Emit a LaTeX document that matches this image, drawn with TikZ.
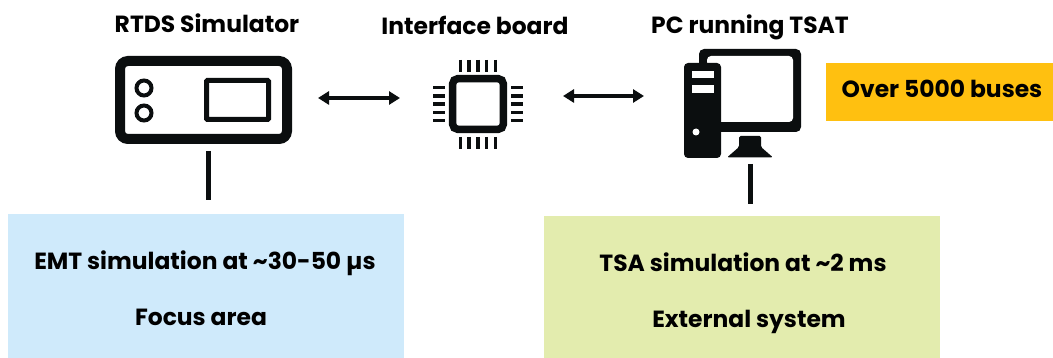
\documentclass[tikz,border=0pt]{standalone}
\usepackage{fontspec}
\setmainfont{Poppins}
\definecolor{ink}{HTML}{0B0E0F}
\definecolor{bluebox}{HTML}{CFEAFB}
\definecolor{greenbox}{HTML}{E3ECAE}
\definecolor{amberbox}{HTML}{FFC010}
\usetikzlibrary{arrows.meta}
\tikzset{
  label text/.style={font=\bfseries\fontsize{23.4}{27}\selectfont,text=black,inner sep=0pt,anchor=base},
  panel/.style={inner sep=0pt,outer sep=0pt,minimum height=#1},
  icon/.style={inner sep=0pt,outer sep=0pt,anchor=center},
  biarrow/.style={line width=3.2pt,ink,{Triangle[length=11pt,width=13pt]}-{Triangle[length=11pt,width=13pt]}},
  stem/.style={line width=5pt,ink},
  pin/.style={line width=3.6pt,ink}
}
\begin{document}
\begin{tikzpicture}[x=1pt,y=-1pt]
\useasboundingbox (0,0) rectangle (1053,358);
% panels
\node[panel=144pt,minimum width=396pt,fill=bluebox] (emt) at (206,286) {};
\node[panel=142pt,minimum width=396pt,fill=greenbox] (tsa) at (742,287) {};
\node[panel=58pt,minimum width=227pt,fill=amberbox] (buses) at (939.5,92) {};
% RTDS icon
\node[icon,draw=ink,line width=10pt,rounded corners=8pt,minimum width=167pt,minimum height=78pt] (sim) at (203.5,100) {};
\node[icon,draw=ink,line width=5pt,rounded corners=1pt,minimum width=62pt,minimum height=39pt] (screen) at (237.5,100) {};
\node[icon,circle,draw=ink,line width=4pt,minimum size=15pt] (led1) at (144,88) {};
\node[icon,circle,draw=ink,line width=4pt,minimum size=15pt] (led2) at (144,113) {};
% chip icon
\node[icon,draw=ink,line width=7.5pt,rounded corners=5pt,minimum width=50.6pt,minimum height=50.6pt] (board) at (478,104) {};
\foreach \i in {0,...,4}{
  \draw[pin] (460.5+8.7*\i,60) -- (460.5+8.7*\i,72);
  \draw[pin] (460.5+8.7*\i,137) -- (460.5+8.7*\i,149);
  \draw[pin] (433,87.5+8.3*\i) -- (445,87.5+8.3*\i);
  \draw[pin] (511,87.5+8.3*\i) -- (523,87.5+8.3*\i);
}
% computer icon
\node[icon,minimum width=117pt,minimum height=109pt] (pc) at (742.5,103.5) {};
\fill[ink,rounded corners=5pt] (699,49) rectangle (801,132);
\fill[white,rounded corners=4pt] (707,56) -- (793,56) -- (793,122) -- (715,122) -- (715,66) -- (707,66) -- cycle;
\fill[ink,rounded corners=4pt] (684,63) rectangle (721,158);
\fill[white] (692,71) rectangle (714,78);
\fill[white] (692,85) rectangle (714,93);
\fill[white] (696,132) circle (3.5);
\fill[ink,rounded corners=1.5pt] (727,157.5) -- (739,147) -- (739,136) -- (761,136) -- (761,147) -- (773,157.5) -- cycle;
% connectors
\draw[biarrow,shorten <=31pt,shorten >=52.7pt] (sim.east |- 0,98) -- (board.west |- 0,98);
\draw[biarrow,shorten <=59.7pt,shorten >=40pt] (board.east |- 0,96) -- (pc.west |- 0,96);
\draw[stem,shorten <=12pt,shorten >=14pt] (sim.south -| 208,0) -- (emt.north -| 208,0);
\draw[stem,shorten <=6pt,shorten >=12pt] (pc.south -| 750,0) -- (tsa.north -| 750,0);
% labels
\node[label text] (t1) at (207,33) {RTDS Simulator};
\node[label text] (t2) at (475,35) {Interface board};
\node[label text] (t3) at (750,34) {PC running TSAT};
\node[label text] (t4) at (942,98) {Over 5000 buses};
\node[label text] (t5) at (205,270) {EMT simulation at \textasciitilde30-50 µs};
\node[label text] (t6) at (201,326) {Focus area};
\node[label text] (t7) at (743,272) {TSA simulation at \textasciitilde2 ms};
\node[label text] (t8) at (749,327) {External system};
\end{tikzpicture}
\end{document}
